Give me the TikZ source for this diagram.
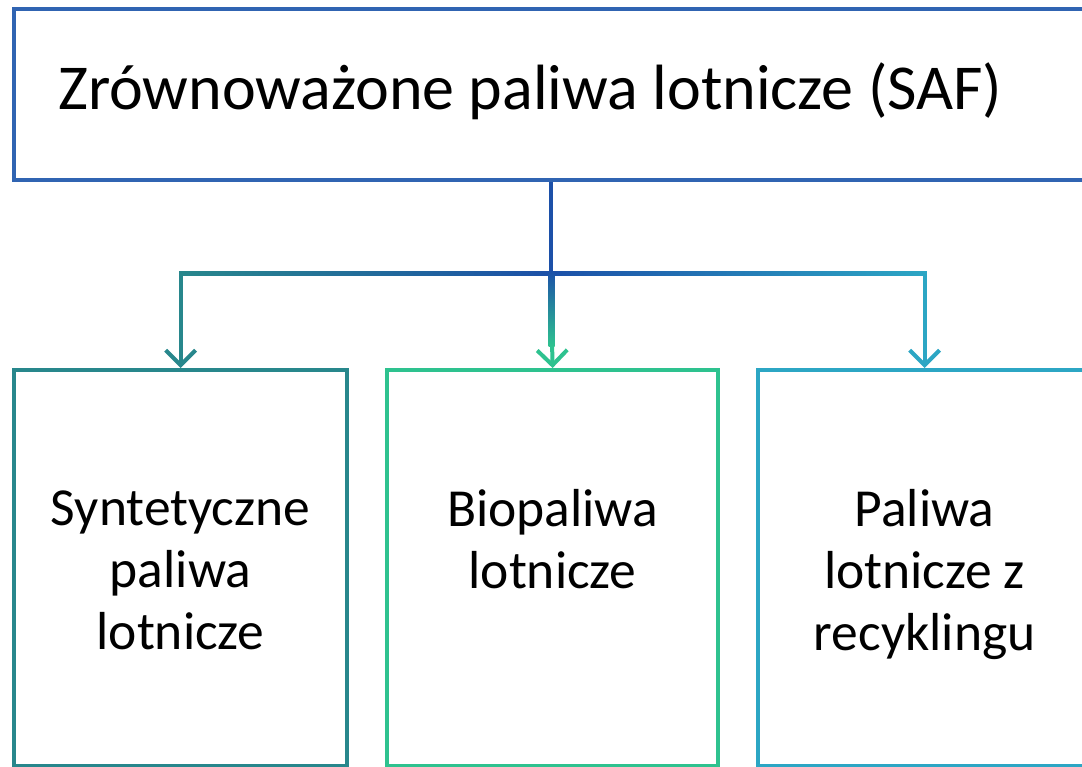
\documentclass[tikz,border=0pt]{standalone}
\usepackage{fontspec}
\setmainfont{Carlito}
\usetikzlibrary{arrows.meta,positioning}
\definecolor{safblue}{RGB}{48,100,178}
\definecolor{trunkblue}{RGB}{28,80,168}
\definecolor{synteal}{RGB}{40,135,140}
\definecolor{biogreen}{RGB}{46,194,143}
\definecolor{recyan}{RGB}{44,166,196}

\begin{document}
\begin{tikzpicture}[x=1pt,y=-1pt]
\tikzset{fuelbox/.style={draw,line width=4.2pt,minimum width=333pt,minimum height=396pt,anchor=north west},
fueltext/.style={anchor=north,align=center,inner sep=0pt,font=\fontsize{53.5}{62}\selectfont},
branch/.style={line width=4pt,-{Straight Barb[length=15pt,width=30pt,line width=4pt]}}}
\useasboundingbox[fill=white] (0,0) rectangle (1082,766);
\node[draw=safblue,line width=4.2pt,anchor=north west,minimum width=1100pt,minimum height=171pt] (saf) at (12,7) {};
\node[anchor=base west,inner sep=0pt,font=\fontsize{64}{70}\selectfont] (saftitle) at (58,109) {Zrównoważone paliwa lotnicze (SAF)};
\node[fuelbox,draw=synteal] (synt) at (12,368) {};
\node[fuelbox,draw=biogreen,minimum width=331pt] (bio) at (385,368) {};
\node[fuelbox,draw=recyan] (recy) at (756,368) {};
\node[fueltext] (synttext) at ([yshift=-123pt]synt.north) {Syntetyczne\\paliwa\\lotnicze};
\node[fueltext] (biotext) at ([yshift=-121pt]bio.north) {Biopaliwa\\lotnicze};
\node[fueltext] (recytext) at ([yshift=-121pt]recy.north) {Paliwa\\lotnicze z\\recyklingu};
\coordinate (split) at (550.5,273);
\draw[line width=4pt,trunkblue] (split |- saf.south) -- (split);
\draw[branch,synteal] (split) -| (synt.north);
\draw[branch,biogreen] (split) -- (bio.north);
\draw[branch,recyan] (split) -| (recy.north);
\shade[left color=synteal,right color=trunkblue] ([shift={(0,-2)}]split -| synt.north) rectangle ([shift={(0,2)}]split);
\shade[left color=trunkblue,right color=recyan] ([shift={(0,-2)}]split) rectangle ([shift={(0,2)}]split -| recy.north);
\shade[top color=trunkblue,bottom color=biogreen] ([shift={(-2,-2)}]split) rectangle ([shift={(2,-22)}]bio.north);
\end{tikzpicture}
\end{document}
